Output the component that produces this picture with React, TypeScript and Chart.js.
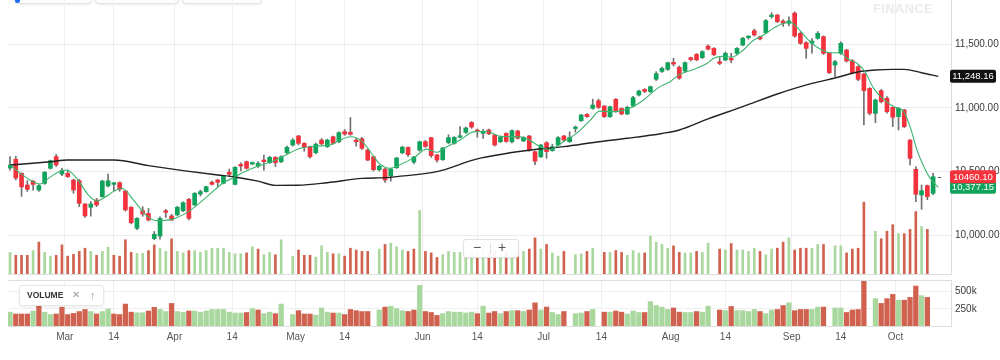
import React, { useEffect, useRef } from "react";
import { Chart, registerables } from "chart.js";

Chart.register(...registerables);

const FONT = '"Liberation Sans", Arial, Helvetica, sans-serif';
const UP = "#0fa35b";
const DOWN = "#f2323c";
const WICK = "#707070";
const VOL_UP = "#a9d89e";
const VOL_DOWN = "#d0614e";
const MA_SHORT_COLOR = "#3cb46e";
const MA_LONG_COLOR = "#222222";

// ---- data (one slot per trading day, 15 Feb -> 10 Oct) ----
const opens = [
  10528, 10597, 10487, 10395, 10426, 10356, 10408, 10526, 10618, 10481,
  10487, 10434, 10429, 10246, 10220, 10277, 10303, 10387, 10400, 10413,
  10348, 10220, 10055, 10193, 10172, 9974, 9994, 10193, 10152, 10160,
  10193, 10282, 10238, 10324, 10343, 10416, 10434, 10408, 10495, 10400,
  10557, 10578, 10560, 10544, 10591, 10570, 10612, 10578, 10649, 10709,
  10780, 10722, 10696, 10649, 10748, 10696, 10774, 10735, 10814, 10809,
  10748, 10758, 10670, 10617, 10515, 10520, 10466, 10531, 10648, 10690,
  10575, 10668, 10735, 10767, 10631, 10594, 10727, 10722, 10770, 10808,
  10886, 10827, 10801, 10827, 10788, 10735, 10801, 10735, 10819, 10741,
  10780, 10657, 10617, 10727, 10665, 10709, 10780, 10735, 10838, 10900,
  10950, 10997, 11057, 11015, 10932, 11068, 10997, 10953, 11015, 11102,
  11146, 11128, 11225, 11287, 11303, 11358, 11319, 11290, 11395, 11421,
  11395, 11486, 11468, 11363, 11377, 11390, 11429, 11494, 11552, 11607,
  11560, 11591, 11717, 11730, 11683, 11665, 11745, 11586, 11513, 11508,
  11547, 11560, 11429, 11337, 11429, 11455, 11371, 11324, 11267, 11154,
  10958, 11136, 11076, 11005, 10932, 10984, 10748, 10518, 10316, 10390,
  10330,
];
const highs = [
  10618, 10620, 10490, 10430, 10430, 10398, 10500, 10590, 10635, 10525,
  10513, 10440, 10440, 10250, 10265, 10290, 10432, 10481, 10416, 10420,
  10352, 10225, 10140, 10225, 10210, 10030, 10145, 10203, 10165, 10228,
  10262, 10290, 10335, 10355, 10386, 10425, 10440, 10470, 10520, 10540,
  10570, 10584, 10575, 10578, 10630, 10620, 10618, 10625, 10700, 10760,
  10785, 10728, 10700, 10725, 10760, 10755, 10780, 10812, 10830, 10925,
  10760, 10770, 10675, 10620, 10550, 10525, 10525, 10612, 10700, 10695,
  10620, 10740, 10745, 10770, 10636, 10690, 10790, 10775, 10853, 10850,
  10893, 10835, 10830, 10835, 10792, 10780, 10805, 10828, 10825, 10775,
  10785, 10662, 10715, 10735, 10715, 10775, 10785, 10812, 10858, 10950,
  10955, 11070, 11070, 11020, 11015, 11075, 11000, 11015, 11092, 11140,
  11152, 11172, 11285, 11322, 11360, 11390, 11330, 11362, 11400, 11428,
  11450, 11495, 11475, 11395, 11440, 11430, 11475, 11555, 11567, 11620,
  11565, 11695, 11748, 11735, 11695, 11715, 11755, 11595, 11520, 11545,
  11600, 11566, 11435, 11375, 11520, 11462, 11380, 11330, 11275, 11160,
  11070, 11146, 11090, 11010, 11005, 10990, 10752, 10539, 10395, 10395,
  10487,
];
const lows = [
  10512, 10435, 10305, 10345, 10355, 10345, 10400, 10520, 10540, 10468,
  10455, 10330, 10225, 10140, 10150, 10225, 10300, 10380, 10348, 10345,
  10190, 10090, 10045, 10150, 10112, 9965, 9970, 10140, 10115, 10155,
  10185, 10120, 10235, 10308, 10338, 10395, 10380, 10404, 10465, 10395,
  10505, 10520, 10555, 10533, 10512, 10565, 10540, 10570, 10640, 10700,
  10710, 10660, 10605, 10640, 10710, 10690, 10715, 10728, 10785, 10785,
  10700, 10675, 10585, 10505, 10505, 10415, 10425, 10525, 10640, 10620,
  10560, 10660, 10690, 10612, 10575, 10588, 10720, 10715, 10765, 10800,
  10840, 10770, 10760, 10790, 10700, 10728, 10730, 10725, 10756, 10735,
  10660, 10555, 10610, 10605, 10660, 10705, 10740, 10730, 10810, 10895,
  10925, 10990, 10995, 10925, 10925, 10965, 10946, 10947, 11008, 11095,
  11120, 11122, 11215, 11280, 11295, 11330, 11225, 11282, 11370, 11370,
  11388, 11455, 11410, 11340, 11370, 11355, 11420, 11488, 11540, 11565,
  11535, 11585, 11705, 11670, 11640, 11645, 11555, 11500, 11390, 11430,
  11540, 11420, 11270, 11246, 11420, 11360, 11268, 11215, 10866, 10945,
  10885, 11040, 10960, 10853, 10827, 10845, 10552, 10264, 10204, 10280,
  10320,
];
const closes = [
  10552, 10450, 10380, 10361, 10400, 10390, 10495, 10586, 10552, 10508,
  10460, 10356, 10251, 10152, 10246, 10238, 10426, 10428, 10413, 10361,
  10199, 10099, 10133, 10167, 10120, 10008, 10133, 10180, 10120, 10220,
  10256, 10133, 10330, 10343, 10382, 10400, 10416, 10466, 10479, 10534,
  10544, 10526, 10567, 10565, 10578, 10612, 10570, 10617, 10691, 10748,
  10722, 10691, 10617, 10715, 10718, 10748, 10722, 10806, 10795, 10793,
  10735, 10683, 10591, 10515, 10542, 10434, 10520, 10607, 10692, 10633,
  10615, 10735, 10698, 10626, 10591, 10686, 10767, 10769, 10782, 10843,
  10850, 10814, 10817, 10797, 10709, 10773, 10737, 10822, 10762, 10769,
  10670, 10582, 10709, 10657, 10696, 10767, 10748, 10769, 10850, 10945,
  10932, 11023, 11005, 10932, 11010, 10975, 10953, 11005, 11081, 11133,
  11130, 11167, 11270, 11311, 11355, 11345, 11234, 11356, 11380, 11378,
  11442, 11462, 11418, 11350, 11429, 11377, 11468, 11547, 11565, 11573,
  11542, 11686, 11730, 11678, 11665, 11683, 11565, 11508, 11468, 11526,
  11586, 11429, 11277, 11364, 11508, 11369, 11277, 11225, 11136, 10958,
  11063, 11049, 10971, 10927, 10997, 10853, 10604, 10322, 10350, 10303,
  10460,
];
// volume in thousands (null = no volume reported)
const volumes = [
  202, 175, 175, 175, 219, 298, 202, 167, 175, 272,
  167, 184, 211, 241, 211, 175, 211, 250, 175, 167,
  320, 202, 193, 193, 219, 272, 241, 211, 329, 211,
  198, 219, 219, 202, 219, 241, 241, 241, 202, 189,
  189, 197, 254, 233, 180, 202, 180, 320, null, 167,
  224, 175, 175, 158, 263, 202, 189, 189, 167, 241,
  224, 211, 211, null, 233, 276, 289, 254, 224, 211,
  233, 592, 211, 197, 154, 180, 211, 202, 202, 189,
  202, 180, 289, 189, 211, 180, 211, 224, 224, 211,
  233, 338, 233, 276, 197, 167, 211, null, 180, 189,
  211, 241, null, 202, 202, 219, 202, 175, 219, 197,
  197, 355, 298, 276, 241, 263, 202, 197, 197, 211,
  202, 289, null, 233, 224, 285, 224, 224, 211, 241,
  211, 180, 233, 241, 298, 338, 224, 241, 241, 241,
  276, 276, null, 263, 263, 197, 233, 241, 671, null,
  399, 329, 399, 461, 377, 377, 417, 583, 443, 417,
  null,
];
// short moving average (slot, value)
const maShortSlots = [
  0, 1.7, 3.5, 5.2, 6.9, 8.5, 9.8, 11.8, 13.5, 15, 16.5, 17.9, 19.4, 21.4, 23.7, 25.4, 28,
  30.9, 33.8, 37, 38.7, 40.5, 42.8, 45.6, 48, 50.3, 53.2, 55.5, 57.2, 59, 60.1, 61.2, 62.4,
  64.1, 65.9, 67.6, 70.1, 72.2, 74, 75.7, 78, 80.3, 82.6, 84.9, 87.2, 89.5, 91.9, 93.6, 95.9,
  98.2, 100.5, 102.2, 104, 105.7, 107.5, 109.8, 112.4, 114.4, 116, 118.5, 120.8, 121.9, 123.5,
  125.1, 127.1, 128.8, 130.6, 132.3, 134, 135.2, 136.3, 138.1, 139.8, 142.1, 143.8, 145.3,
  146.8, 148.2, 149.7, 151.5, 153.2, 154.9, 156.1, 157.2, 158.4, 159.5, 160.9,
];
const maShortValues = [
  10552, 10490, 10434, 10403, 10455, 10500, 10513, 10434, 10320, 10269, 10300, 10343, 10369, 10277, 10152, 10115, 10125,
  10186, 10290, 10413, 10452, 10495, 10540, 10583, 10635, 10683, 10701, 10709, 10748, 10774, 10765, 10730, 10660,
  10560, 10526, 10555, 10612, 10677, 10652, 10696, 10748, 10812, 10817, 10778, 10775, 10761, 10696, 10675, 10735,
  10800, 10900, 10975, 10971, 10975, 10999, 11063, 11160, 11206, 11262, 11303, 11350, 11389, 11405,
  11400, 11455, 11530, 11573, 11625, 11665, 11673, 11639, 11547, 11480, 11434, 11434, 11382,
  11351, 11285, 11154, 11063, 11010, 10971, 10840, 10670, 10539, 10447, 10377.15,
];
// long moving average (slot, value)
const maLongSlots = [
  0, 7, 10, 18, 24, 30, 36, 39, 43, 46, 50, 55, 61, 65, 67, 74, 81, 90, 96, 102, 107, 113,
  116, 121, 127, 133, 139, 143, 147, 150, 153, 155, 158, 160.9,
];
const maLongValues = [
  10552, 10578, 10591, 10591, 10547, 10508, 10474, 10458, 10425, 10392, 10393, 10413, 10447,
  10453, 10461, 10500, 10600, 10668, 10696, 10735, 10762, 10800, 10827, 10915, 11010, 11110,
  11193, 11235, 11283, 11298, 11303, 11303, 11277, 11248.16,
];
const xTickSlots = [9.5, 18, 28.5, 38.5, 49.5, 58, 71.5, 81, 92.5, 102.5, 114.5, 124, 135.5, 144, 153.5];
const xTickLabels = ["Mar", "14", "Apr", "14", "May", "14", "Jun", "14", "Jul", "14", "Aug", "14", "Sep", "14", "Oct"];
const priceTicks = [10000, 10500, 11000, 11500];
const volumeTicks = [250, 500];
const volumeTickLabels = ["250k", "500k"];
const priceTagValues = [11248.16, 10377.15, 10460.1];
const priceTagTexts = ["11,248.16", "10,377.15", "10460.10"];
const priceTagKinds = ["long", "short", "last"];

const TAG_COLORS: Record<string, string> = { long: "#111111", short: "#10a35c", last: "#f5333c" };

const X_MIN = -0.35;
const X_MAX = 163.1;

const fmtPrice = (v: number) =>
  v.toLocaleString("en-US", { minimumFractionDigits: 2, maximumFractionDigits: 2 });

export default function App() {
  const mainRef = useRef<HTMLCanvasElement>(null);
  const volRef = useRef<HTMLCanvasElement>(null);

  useEffect(() => {
    Chart.defaults.font.family = FONT;
    const slots = closes.map((_, i) => i);
    const candleColors = slots.map((i) => (closes[i] >= opens[i] ? UP : DOWN));
    const volColors = slots.map((i) => (i === 0 || closes[i] >= closes[i - 1] ? VOL_UP : VOL_DOWN));
    const volData = slots.map((i) => ({ x: i, y: volumes[i] }));

    const buildX = (showLabels: boolean): any => ({
      type: "linear",
      min: X_MIN,
      max: X_MAX,
      offset: false,
      afterBuildTicks: (s: any) => {
        s.ticks = xTickSlots.map((v) => ({ value: v }));
      },
      afterFit: (s: any) => {
        s.paddingLeft = 0;
        s.paddingRight = 0;
      },
      ticks: {
        display: showLabels,
        autoSkip: false,
        maxRotation: 0,
        padding: 5,
        color: "#555",
        font: { family: FONT, size: 10 },
        callback: (_v: any, i: number) => xTickLabels[i],
      },
      grid: { color: "#f0f0f0", drawTicks: false, offset: false },
      border: { display: true, color: "#dedede" },
    });

    const tagPlugin = {
      id: "tags",
      afterDraw(chart: any) {
        const { ctx, scales, chartArea } = chart;
        const ys = scales.y;
        const xs = scales.x;
        ctx.save();
        const lastIdx = closes.length - 1;
        const px = xs.getPixelForValue(lastIdx);
        const py = ys.getPixelForValue(closes[lastIdx]);
        ctx.strokeStyle = "#555";
        ctx.lineWidth = 1;
        ctx.beginPath();
        ctx.moveTo(px + 5, Math.round(py) + 0.5);
        ctx.lineTo(px + 8, Math.round(py) + 0.5);
        ctx.stroke();
        priceTagValues.forEach((v, i) => {
          const y = ys.getPixelForValue(v);
          const x0 = chartArea.right - 1;
          const w = 46;
          const h = 13;
          ctx.fillStyle = TAG_COLORS[priceTagKinds[i]];
          ctx.beginPath();
          (ctx as any).roundRect(x0, y - h / 2, w, h, 2);
          ctx.fill();
          ctx.fillStyle = "#fff";
          ctx.font = `9.5px ${FONT}`;
          ctx.textBaseline = "middle";
          ctx.textAlign = "center";
          ctx.fillText(priceTagTexts[i], x0 + w / 2, y + 0.5);
        });
        ctx.restore();
      },
    };

    const main = new Chart(mainRef.current as HTMLCanvasElement, {
      type: "bar",
      data: {
        datasets: [
          {
            type: "line",
            data: maShortSlots.map((x, i) => ({ x, y: maShortValues[i] })),
            borderColor: MA_SHORT_COLOR,
            borderWidth: 1.1,
            pointRadius: 0,
            cubicInterpolationMode: "monotone",
            yAxisID: "y",
            order: 0,
          } as any,
          {
            type: "line",
            data: maLongSlots.map((x, i) => ({ x, y: maLongValues[i] })),
            borderColor: MA_LONG_COLOR,
            borderWidth: 1.4,
            pointRadius: 0,
            cubicInterpolationMode: "monotone",
            yAxisID: "y",
            order: 0,
          } as any,
          {
            type: "bar",
            data: slots.map((i) => ({ x: i, y: [Math.min(opens[i], closes[i]), Math.max(opens[i], closes[i])] })),
            backgroundColor: candleColors,
            barThickness: 4,
            minBarLength: 1.5,
            grouped: false,
            yAxisID: "y",
            order: 1,
          } as any,
          {
            type: "bar",
            data: slots.map((i) => ({ x: i, y: [lows[i], highs[i]] })),
            backgroundColor: WICK,
            barThickness: 1,
            grouped: false,
            yAxisID: "y",
            order: 2,
          } as any,
          {
            type: "bar",
            data: volData,
            backgroundColor: volColors,
            barThickness: 2,
            grouped: false,
            yAxisID: "yv",
            order: 3,
          } as any,
        ],
      },
      options: {
        responsive: false,
        animation: false,
        devicePixelRatio: 1,
        events: [],
        layout: { padding: { left: 8, right: 0, top: 0, bottom: 1 } },
        plugins: { legend: { display: false }, tooltip: { enabled: false } },
        scales: {
          x: { ...buildX(false), border: { display: true, color: "#dedede" } },
          y: {
            type: "linear",
            position: "right",
            min: 9696,
            max: 11848,
            afterBuildTicks: (s: any) => {
              s.ticks = priceTicks.map((v) => ({ value: v }));
            },
            afterFit: (s: any) => {
              s.width = 49;
              s.paddingTop = 0;
              s.paddingBottom = 0;
            },
            ticks: {
              padding: 4,
              color: "#3a3a3a",
              font: { family: FONT, size: 10 },
              callback: (v: any) => fmtPrice(Number(v)),
            },
            grid: { color: "#ececec", drawTicks: false },
            border: { display: true, color: "#dedede" },
          },
          yv: { type: "linear", display: false, min: 0, max: 2560 },
        } as any,
      },
      plugins: [tagPlugin],
    });

    const topLine = {
      id: "topLine",
      afterDraw(chart: any) {
        const { ctx, chartArea } = chart;
        ctx.save();
        ctx.strokeStyle = "#dedede";
        ctx.lineWidth = 1;
        ctx.beginPath();
        ctx.moveTo(chartArea.left, chartArea.top + 0.5);
        ctx.lineTo(chartArea.right, chartArea.top + 0.5);
        ctx.stroke();
        ctx.restore();
      },
    };

    const vol = new Chart(volRef.current as HTMLCanvasElement, {
      type: "bar",
      data: {
        datasets: [
          {
            data: volData,
            backgroundColor: volColors,
            barThickness: 4.6,
            grouped: false,
          } as any,
        ],
      },
      options: {
        responsive: false,
        animation: false,
        devicePixelRatio: 1,
        events: [],
        layout: { padding: { left: 8, right: 0, top: 4, bottom: 12 } },
        plugins: { legend: { display: false }, tooltip: { enabled: false } },
        scales: {
          x: buildX(true),
          y: {
            type: "linear",
            position: "right",
            min: 0,
            max: 671,
            afterBuildTicks: (s: any) => {
              s.ticks = volumeTicks.map((v) => ({ value: v }));
            },
            afterFit: (s: any) => {
              s.width = 49;
              s.paddingTop = 0;
              s.paddingBottom = 0;
            },
            ticks: {
              padding: 4,
              color: "#3a3a3a",
              font: { family: FONT, size: 10 },
              callback: (_v: any, i: number) => volumeTickLabels[i],
            },
            grid: { color: "#f0f0f0", drawTicks: false },
            border: { display: true, color: "#dedede" },
          },
        } as any,
      },
      plugins: [topLine],
    });

    return () => {
      main.destroy();
      vol.destroy();
    };
  }, []);

  const toolbar = [
    [15, 75],
    [95, 82],
    [182, 78],
  ];

  return (
    <div
      style={{
        position: "fixed",
        left: 0,
        top: 0,
        width: 1000,
        height: 360,
        background: "#fff",
        overflow: "hidden",
        fontFamily: FONT,
      }}
    >
      {toolbar.map(([l, w], i) => (
        <div
          key={i}
          style={{
            position: "absolute",
            left: l,
            top: -22,
            width: w,
            height: 24,
            border: "1px solid #e2e2e2",
            borderRadius: 4,
            boxShadow: "0 1px 2px rgba(0,0,0,0.08)",
            background: "#fff",
          }}
        />
      ))}
      <div
        style={{
          position: "absolute",
          left: 15,
          top: -4,
          width: 5,
          height: 7,
          borderRadius: 2,
          background: "#1e6ff0",
        }}
      />
      <div
        style={{
          position: "absolute",
          left: 873,
          top: 1,
          fontSize: 13,
          fontWeight: 700,
          color: "#ececec",
          letterSpacing: 0.3,
        }}
      >
        FINANCE
      </div>
      <canvas ref={mainRef} width={1000} height={275} style={{ position: "absolute", left: 0, top: 0 }} />
      <canvas ref={volRef} width={1000} height={84} style={{ position: "absolute", left: 0, top: 276 }} />
      <div
        style={{
          position: "absolute",
          left: 463,
          top: 239,
          width: 54,
          height: 17,
          background: "rgba(255,255,255,0.92)",
          border: "1px solid #e2e2e2",
          borderRadius: 3,
          boxShadow: "0 1px 2px rgba(0,0,0,0.06)",
          color: "#555",
          fontSize: 14,
          lineHeight: "17px",
        }}
      >
        <span style={{ position: "absolute", left: 9, top: -1 }}>−</span>
        <span style={{ position: "absolute", left: 26, top: 3, width: 1, height: 11, background: "#ddd" }} />
        <span style={{ position: "absolute", left: 34, top: -1 }}>+</span>
      </div>
      <div
        style={{
          position: "absolute",
          left: 19,
          top: 285,
          width: 83,
          height: 19,
          background: "#fff",
          border: "1px solid #e8e8e8",
          borderRadius: 3,
          boxShadow: "0 1px 3px rgba(0,0,0,0.08)",
        }}
      >
        <span
          style={{
            position: "absolute",
            left: 7,
            top: 4,
            fontSize: 8.5,
            fontWeight: 700,
            color: "#333",
            lineHeight: "11px",
          }}
        >
          VOLUME
        </span>
        <span style={{ position: "absolute", left: 52, top: 2, fontSize: 10, color: "#9a9a9a", lineHeight: "14px" }}>
          ✕
        </span>
        <span style={{ position: "absolute", left: 70, top: 2, fontSize: 11, color: "#9a9a9a", lineHeight: "14px" }}>
          ↑
        </span>
      </div>
    </div>
  );
}
